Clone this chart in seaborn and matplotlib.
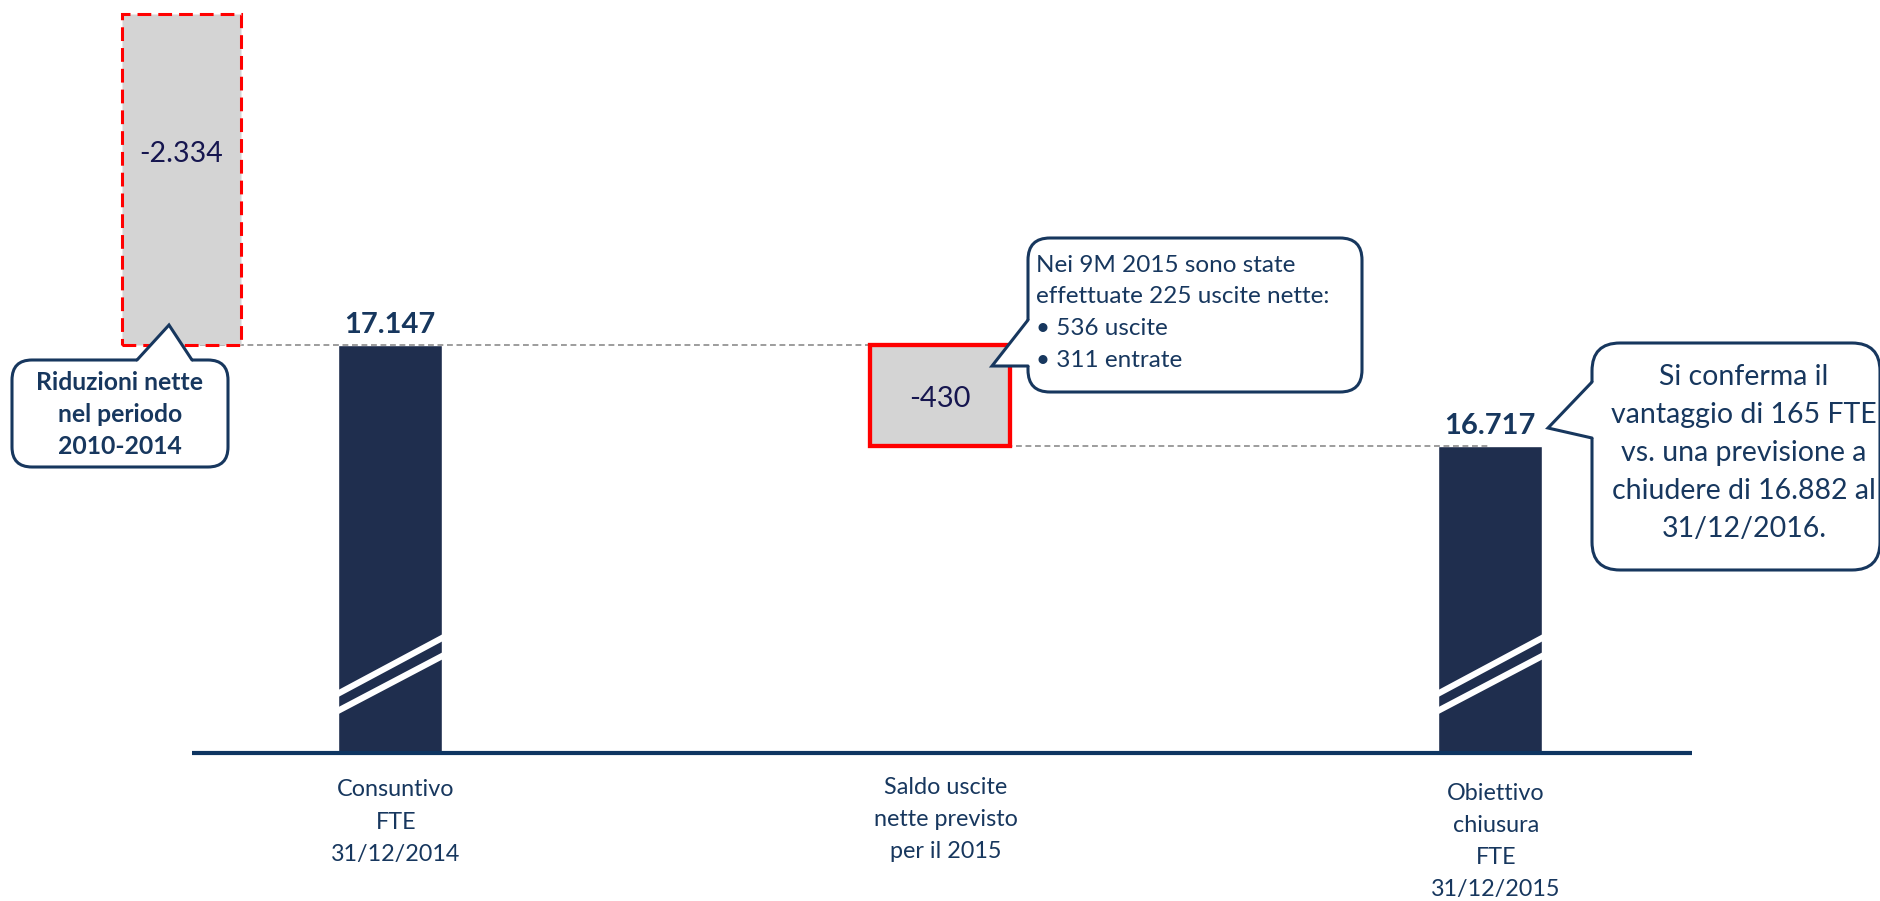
import matplotlib
matplotlib.use("Agg")
import matplotlib.pyplot as plt
import matplotlib.transforms as mtransforms
from matplotlib.patches import FancyBboxPatch, Polygon
from matplotlib.lines import Line2D
import pandas as pd
import seaborn as sns

# ---------------- data ----------------
categories = [
    "Consuntivo\nFTE\n31/12/2014",
    "Saldo uscite\nnette previsto\nper il 2015",
    "Obiettivo\nchiusura\nFTE\n31/12/2015",
]
fte_start = 17147            # FTE at 31/12/2014
net_exits_2015 = -430        # expected net exits in 2015
fte_target = 16717           # target FTE at 31/12/2015
reduction_2010_2014 = -2334  # net reductions 2010-2014
axis_floor = 15410           # value sitting on the broken baseline

note_reduction = ["Riduzioni nette", "nel periodo", "2010-2014"]
note_9m = ["Nei 9M 2015 sono state", "effettuate 225 uscite nette:",
           "\u2022 536 uscite", "\u2022 311 entrate"]
note_target = ["Si conferma il", "vantaggio di 165 FTE", "vs. una previsione a",
               "chiudere di 16.882 al", "31/12/2016."]

# ---------------- style ----------------
BAR_NAVY = "#1F2E4E"
TEXT_NAVY = "#17375E"
VALUE_INK = "#16164F"
BOX_GREY = "#D4D4D4"
RED = "#FF0000"
DASH_GREY = "#8C8C8C"
BASE_BLUE = "#0E3561"

sns.set_theme(style="white")
plt.rcParams["font.family"] = ["Lato", "DejaVu Sans"]

W, H = 1881, 901
fig = plt.figure(figsize=(W / 100, H / 100), dpi=100)
ax = fig.add_axes([0, 0, 1, 1])


def fmt(v):
    return f"{v:,}".replace(",", ".")


# totals, measured from the broken baseline
totals = pd.DataFrame({
    "cat": [categories[0], categories[2]],
    "above_floor": [fte_start - axis_floor, fte_target - axis_floor],
})
sns.barplot(data=totals, x="cat", y="above_floor", order=categories,
            width=0.19, color=BAR_NAVY, saturation=1, errorbar=None, ax=ax)

ax.set_xlim(-0.709, 2.711)
ax.set_ylim(-630, 3206)
ax.axis("off")

start_rel = fte_start - axis_floor
target_rel = fte_target - axis_floor

# floating delta for 2015
ax.bar(1, net_exits_2015, bottom=start_rel, width=0.255, color=BOX_GREY,
       edgecolor=RED, linewidth=3.1, zorder=3)
ax.text(1, start_rel + net_exits_2015 / 2 - 14, fmt(net_exits_2015),
        ha="center", va="center", fontsize=21, color=VALUE_INK, zorder=5)

# connectors
ax.plot([-0.379, 1], [start_rel, start_rel], color=DASH_GREY, lw=1.2,
        ls=(0, (3.5, 2.2)), zorder=2.5)
ax.plot([1, 2], [target_rel, target_rel], color=DASH_GREY, lw=1.2,
        ls=(0, (3.5, 2.2)), zorder=2.5)

# axis-break stripes on the total bars
half = 15
for i in (0, 2):
    xl, xr = i - 0.095, i + 0.095
    for yl, yr in ((252, 490), (179, 413)):
        ax.add_patch(Polygon([(xl, yl - half), (xr, yr - half),
                              (xr, yr + half), (xl, yl + half)],
                             closed=True, facecolor="white", edgecolor="none",
                             zorder=2))

# value labels of the totals
for i, v in ((0, fte_start), (2, fte_target)):
    ax.annotate(fmt(v), xy=(i, v - axis_floor), xytext=(0, 8.6),
                textcoords="offset points", ha="center", va="baseline",
                fontsize=21, fontweight="bold", color=TEXT_NAVY)

# baseline
ax.hlines(0, -0.36, 2.367, color=BASE_BLUE, lw=3, zorder=4)

# 2010-2014 reduction on its own compressed scale
ax2 = ax.twinx()
ax2.set_ylim(13227, 19580)
ax2.axis("off")
ax2.bar(-0.379, -reduction_2010_2014, bottom=fte_start, width=0.218,
        color=BOX_GREY, edgecolor=RED, linewidth=2.2,
        linestyle=(0, (4.5, 2.3)), zorder=3)
ax2.text(-0.379, fte_start - reduction_2010_2014 * 0.577, fmt(reduction_2010_2014),
         ha="center", va="center", fontsize=20.5, color=VALUE_INK, zorder=5)

# ---------------- annotations in pixel space (top-left origin) ----------------
T = mtransforms.Affine2D().scale(1 / W, -1 / H).translate(0, 1) + fig.transFigure


def callout(x0, y0, x1, y1, base_a, base_b, tip, inward, r):
    box = FancyBboxPatch((x0, y0), x1 - x0, y1 - y0,
                         boxstyle=f"round,pad=0,rounding_size={r}",
                         transform=T, facecolor="white", edgecolor=TEXT_NAVY,
                         linewidth=2.2, zorder=10)
    fig.add_artist(box)
    dx, dy = inward
    fill = Polygon([base_a, tip, base_b,
                    (base_b[0] + dx, base_b[1] + dy),
                    (base_a[0] + dx, base_a[1] + dy)],
                   closed=True, transform=T, facecolor="white",
                   edgecolor="none", zorder=11)
    fig.add_artist(fill)
    edge = Line2D([base_a[0], tip[0], base_b[0]], [base_a[1], tip[1], base_b[1]],
                  transform=T, color=TEXT_NAVY, linewidth=2.2, zorder=12,
                  solid_joinstyle="miter")
    fig.add_artist(edge)


callout(12, 360, 228, 467, (137, 360), (192, 360), (169, 325), (0, 4), 20)
for j, line in enumerate(note_reduction):
    fig.text(120, 383 + 32 * j, line, transform=T, ha="center", va="center",
             fontsize=17.8, fontweight="bold", color=TEXT_NAVY, zorder=13)

callout(1028, 238, 1362, 392, (1028, 320), (1028, 366), (992, 366), (4, 0), 22)
for j, line in enumerate(note_9m):
    fig.text(1036, 265 + 31.7 * j, line, transform=T, ha="left", va="center",
             fontsize=17.5, color=TEXT_NAVY, zorder=13)

callout(1592, 343, 1880, 570, (1592, 382), (1592, 438), (1548, 428), (4, 0), 28)
for j, line in enumerate(note_target):
    fig.text(1744, 377 + 38 * j, line, transform=T, ha="center", va="center",
             fontsize=20.5, color=TEXT_NAVY, zorder=13)

# category labels under the baseline
lab_tr = mtransforms.blended_transform_factory(ax.transData, T)
first_line_y = [790, 787, 793]
for i, cat in enumerate(categories):
    for j, line in enumerate(cat.split("\n")):
        ax.text(i + 0.011, first_line_y[i] + 32.3 * j, line, transform=lab_tr,
                ha="center", va="center", fontsize=16.8, color=TEXT_NAVY)

fig.savefig("out.png", dpi=100)
